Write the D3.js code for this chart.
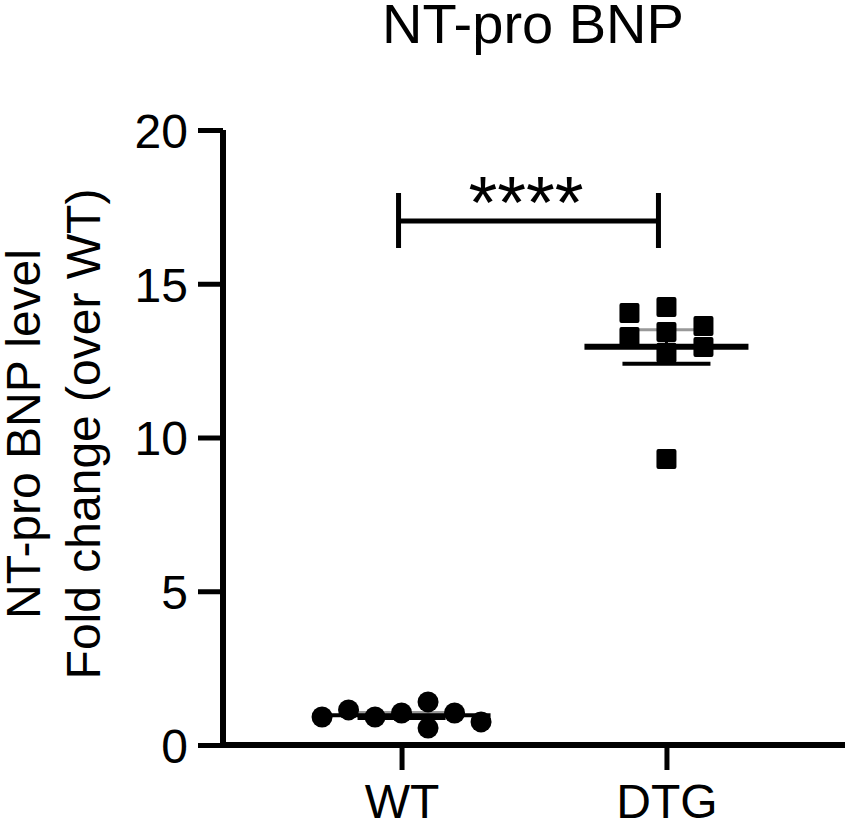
<!DOCTYPE html>
<html>
<head>
<meta charset="utf-8">
<script src="https://cdn.jsdelivr.net/npm/d3@7"></script>
<style>
  body { margin: 0; background: #fff; }
  svg text { font-family: "Liberation Sans", Arial, sans-serif; fill: #000; }
</style>
</head>
<body>
<svg width="850" height="829"></svg>
<script>
// values, in the order Prism stacked them
const groups = ["WT", "DTG"];
const wtValues = [1.04, 0.91, 1.40, 1.14, 1.04, 0.91, 0.75, 0.55];
const dtgValues = [9.30, 14.24, 13.43, 12.76, 14.05, 13.63, 13.27, 12.94];
const yTicks = [0, 5, 10, 15, 20];
const title = "NT-pro BNP";
const yLabel = ["NT-pro BNP level", "Fold change (over WT)"];
const signif = "****";

const svg = d3.select("svg");

const x = d3.scalePoint().domain(groups).range([223, 845]).padding(0.674);
const y = d3.scaleLinear().domain([0, 20]).range([745, 130]);

// simple beeswarm: first free column nearest to the centre
function swarm(values, step, minGap) {
  const placed = [];
  const order = [0, -1, 1, -2, 2, -3, 3, -4, 4, -5, 5];
  return values.map(v => {
    const py = y(v);
    const col = order.find(c => !placed.some(p => p.col === c && Math.abs(p.py - py) < minGap));
    placed.push({ col, py });
    return { v, col, dx: col * step };
  });
}

const wtPts = swarm(wtValues, 26.5, 21);
const dtgPts = swarm(dtgValues, 37, 19);

// axes
const yAxis = svg.append("g")
  .attr("transform", "translate(223,0)")
  .call(d3.axisLeft(y).tickValues(yTicks).tickSize(25).tickPadding(10));
const xAxis = svg.append("g")
  .attr("transform", "translate(0,745)")
  .call(d3.axisBottom(x).tickSize(25).tickPadding(14));

[yAxis, xAxis].forEach(a => {
  a.select(".domain").remove();
  a.selectAll(".tick line").attr("stroke", "#000").attr("stroke-width", 5);
  a.selectAll(".tick text").style("font-size", "48px");
});
yAxis.selectAll(".tick text").attr("dy", "0.36em");

svg.append("line")
  .attr("x1", 223).attr("x2", 223).attr("y1", y(20)).attr("y2", y(0) + 3)
  .attr("stroke", "#000").attr("stroke-width", 6);
svg.append("line")
  .attr("x1", 220).attr("x2", 845).attr("y1", y(0)).attr("y2", y(0))
  .attr("stroke", "#000").attr("stroke-width", 6);

// mean and SEM
function stats(vals) {
  const m = d3.mean(vals);
  const sem = d3.deviation(vals) / Math.sqrt(vals.length);
  return { m, sem };
}

function drawBars(name, vals) {
  const s = stats(vals);
  const cx = x(name);
  const g = svg.append("g");
  g.append("line")
    .attr("x1", cx).attr("x2", cx)
    .attr("y1", y(s.m + s.sem)).attr("y2", y(s.m - s.sem))
    .attr("stroke", "#000").attr("stroke-width", 3);
  g.append("line")
    .attr("x1", cx - 44).attr("x2", cx + 44)
    .attr("y1", y(s.m + s.sem)).attr("y2", y(s.m + s.sem))
    .attr("stroke", "#999").attr("stroke-width", 3);
  g.append("line")
    .attr("x1", cx - 44).attr("x2", cx + 44)
    .attr("y1", y(s.m - s.sem)).attr("y2", y(s.m - s.sem))
    .attr("stroke", "#000").attr("stroke-width", 4);
  return s;
}

function drawMean(name, vals, half, w) {
  const s = stats(vals);
  const cx = x(name);
  svg.append("line")
    .attr("x1", cx - half).attr("x2", cx + half)
    .attr("y1", y(s.m)).attr("y2", y(s.m))
    .attr("stroke", "#000").attr("stroke-width", w);
}

drawBars("WT", wtValues);
drawBars("DTG", dtgValues);
drawMean("WT", wtValues, 89, 4);

svg.append("g").selectAll("circle")
  .data(wtPts)
  .join("circle")
  .attr("cx", d => x("WT") + d.dx)
  .attr("cy", d => y(d.v))
  .attr("r", 10.5)
  .attr("fill", "#000");

svg.append("g").selectAll("rect")
  .data(dtgPts)
  .join("rect")
  .attr("x", d => x("DTG") + d.dx - 10)
  .attr("y", d => y(d.v) - 10)
  .attr("width", 20).attr("height", 20)
  .attr("rx", 2)
  .attr("fill", "#000");

drawMean("DTG", dtgValues, 82, 6);

// significance bracket
const bracketY = 221;
svg.append("path")
  .attr("d", `M${x("WT") - 3},${bracketY - 28}V${bracketY + 27}M${x("WT") - 3},${bracketY}H${x("DTG") - 8}M${x("DTG") - 8},${bracketY - 28}V${bracketY + 27}`)
  .attr("fill", "none").attr("stroke", "#000").attr("stroke-width", 5);
svg.append("text")
  .attr("x", (x("WT") + x("DTG")) / 2 - 8).attr("y", 228)
  .attr("text-anchor", "middle")
  .style("font-size", "74px")
  .text(signif);

// title
svg.append("text")
  .attr("x", 533).attr("y", 43)
  .attr("text-anchor", "middle")
  .style("font-size", "56px")
  .text(title);

// y label
const yl = svg.append("text")
  .attr("transform", "translate(40,434) rotate(-90)")
  .attr("text-anchor", "middle")
  .style("font-size", "48px");
yl.selectAll("tspan")
  .data(yLabel)
  .join("tspan")
  .attr("x", 0)
  .attr("dy", (d, i) => i === 0 ? 0 : 60)
  .text(d => d);
</script>
</body>
</html>
